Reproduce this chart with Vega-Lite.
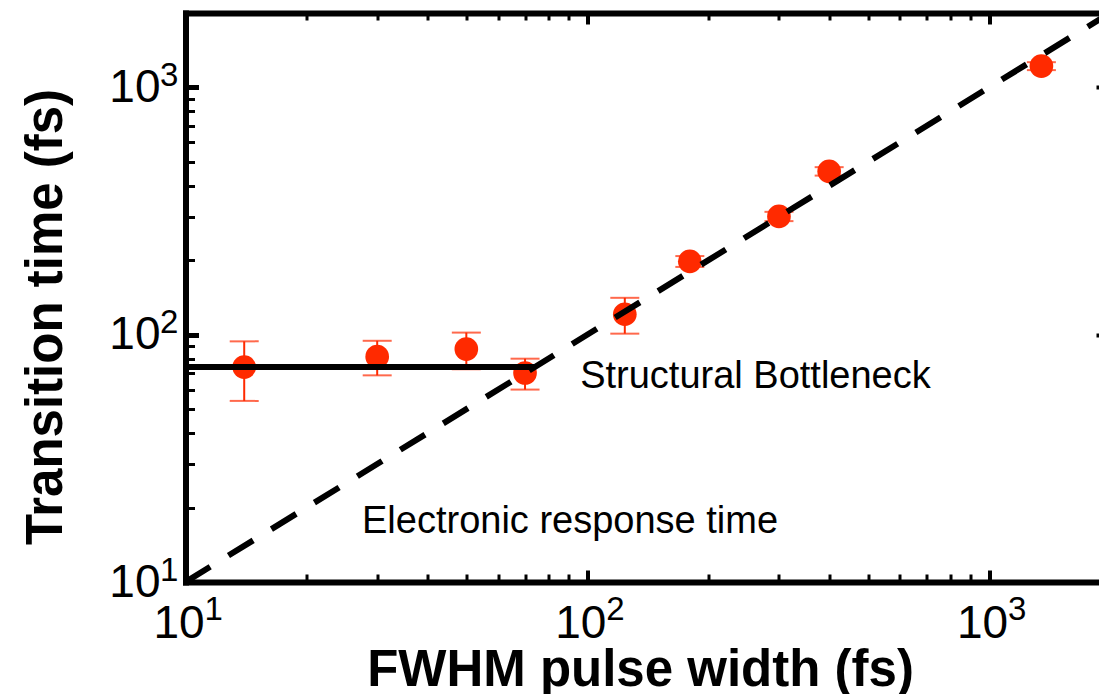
{
  "$schema": "https://vega.github.io/schema/vega-lite/v6.json",
  "width": 913.5,
  "height": 569,
  "autosize": {"type": "none"},
  "padding": {"left": 185.5, "top": 13, "right": 0, "bottom": 112},
  "background": "white",
  "config": {"view": {"stroke": null}, "font": "Liberation Sans"},
  "datasets": {
    "measured": [
      {"fwhm": 14, "t": 74, "lo": 54, "hi": 94},
      {"fwhm": 30, "t": 81.5, "lo": 68.5, "hi": 94.5},
      {"fwhm": 50, "t": 87.5, "lo": 72.5, "hi": 102},
      {"fwhm": 70, "t": 70, "lo": 60, "hi": 80},
      {"fwhm": 124, "t": 121, "lo": 101, "hi": 141},
      {"fwhm": 180, "t": 198, "lo": 188, "hi": 208},
      {"fwhm": 300, "t": 301, "lo": 288, "hi": 314},
      {"fwhm": 400, "t": 458, "lo": 440, "hi": 476},
      {"fwhm": 1350, "t": 1220, "lo": 1175, "hi": 1265}
    ],
    "bottleneck": [
      {"fwhm": 10, "t": 74},
      {"fwhm": 74, "t": 74}
    ],
    "electronic": [
      {"fwhm": 10, "t": 10},
      {"fwhm": 2000, "t": 2000}
    ],
    "notes": [
      {"fwhm": 96, "t": 61, "label": "Structural Bottleneck"},
      {"fwhm": 27.5, "t": 15.8, "label": "Electronic response time"}
    ],
    "decades": [
      {"v": 10, "e": "1"},
      {"v": 100, "e": "2"},
      {"v": 1000, "e": "3"}
    ]
  },
  "layer": [
    {
      "data": {"name": "measured"},
      "mark": {"type": "rule", "color": "#ff2a00", "strokeWidth": 2},
      "encoding": {
        "x": {
          "field": "fwhm", "type": "quantitative",
          "scale": {"type": "log", "domain": [10, 1878], "nice": false},
          "axis": {
            "orient": "bottom",
            "values": [10, 20, 30, 40, 50, 60, 70, 80, 90, 100, 200, 300, 400, 500, 600, 700, 800, 900, 1000],
            "grid": false,
            "domainColor": "black", "domainWidth": 6, "domainCap": "square",
            "tickColor": "black",
            "tickSize": {"condition": {"test": "datum.value === 10 || datum.value === 100 || datum.value === 1000", "value": -12}, "value": -8},
            "tickWidth": {"condition": {"test": "datum.value === 10 || datum.value === 100 || datum.value === 1000", "value": 4}, "value": 3},
            "labelExpr": "datum.value === 10 || datum.value === 100 || datum.value === 1000 ? '10' : ''",
            "labelFont": "Liberation Sans", "labelFontSize": 46, "labelColor": "black",
            "labelBaseline": "alphabetic", "labelAlign": "center",
            "labelPadding": 67, "labelOffset": -7,
            "labelOverlap": false, "labelFlush": false, "labelBound": false,
            "title": "FWHM pulse width (fs)",
            "titleFont": "Liberation Sans", "titleFontWeight": "bold", "titleFontSize": 51, "titleColor": "black",
            "titleX": 454.5, "titleY": 103, "titleBaseline": "alphabetic", "titleAlign": "center"
          }
        },
        "y": {
          "field": "lo", "type": "quantitative",
          "scale": {"type": "log", "domain": [10, 2000], "nice": false},
          "axis": {
            "orient": "left",
            "values": [10, 20, 30, 40, 50, 60, 70, 80, 90, 100, 200, 300, 400, 500, 600, 700, 800, 900, 1000],
            "grid": false,
            "domainColor": "black", "domainWidth": 6, "domainCap": "square",
            "tickColor": "black",
            "tickSize": {"condition": {"test": "datum.value === 10 || datum.value === 100 || datum.value === 1000", "value": -13}, "value": -9},
            "tickWidth": {"condition": {"test": "datum.value === 10 || datum.value === 100 || datum.value === 1000", "value": 5}, "value": 3},
            "labelExpr": "datum.value === 10 || datum.value === 100 || datum.value === 1000 ? '10' : ''",
            "labelFont": "Liberation Sans", "labelFontSize": 46, "labelColor": "black",
            "labelBaseline": "alphabetic", "labelAlign": "right",
            "labelPadding": 38.5, "labelOffset": 14,
            "labelOverlap": false, "labelFlush": false, "labelBound": false,
            "title": "Transition time (fs)",
            "titleFont": "Liberation Sans", "titleFontWeight": "bold", "titleFontSize": 51, "titleColor": "black",
            "titleAngle": -90, "titleX": -124, "titleY": 303.5, "titleBaseline": "alphabetic", "titleAlign": "center"
          }
        },
        "y2": {"field": "hi"}
      }
    },
    {
      "data": {"name": "measured"},
      "mark": {"type": "tick", "orient": "horizontal", "color": "#ff2a00", "size": 29, "thickness": 2},
      "encoding": {
        "x": {
          "field": "fwhm", "type": "quantitative",
          "scale": {"type": "log", "domain": [10, 1878], "nice": false},
          "axis": {
            "orient": "top",
            "values": [10, 20, 30, 40, 50, 60, 70, 80, 90, 100, 200, 300, 400, 500, 600, 700, 800, 900, 1000],
            "grid": false, "labels": false, "title": null,
            "domainColor": "black", "domainWidth": 6, "domainCap": "square",
            "tickColor": "black",
            "tickSize": {"condition": {"test": "datum.value === 10 || datum.value === 100 || datum.value === 1000", "value": -11}, "value": -7},
            "tickWidth": {"condition": {"test": "datum.value === 10 || datum.value === 100 || datum.value === 1000", "value": 4}, "value": 3}
          }
        },
        "y": {
          "field": "hi", "type": "quantitative",
          "scale": {"type": "log", "domain": [10, 2000], "nice": false},
          "axis": {
            "orient": "right",
            "values": [10, 100, 1000],
            "grid": false, "labels": false, "title": null, "domain": false,
            "tickColor": "black", "tickSize": -3, "tickWidth": 4
          }
        }
      }
    },
    {
      "data": {"name": "measured"},
      "mark": {"type": "tick", "orient": "horizontal", "color": "#ff2a00", "size": 29, "thickness": 2},
      "encoding": {
        "x": {"field": "fwhm", "type": "quantitative", "axis": null},
        "y": {"field": "lo", "type": "quantitative", "axis": null}
      }
    },
    {
      "data": {"name": "measured"},
      "mark": {"type": "point", "shape": "circle", "filled": true, "color": "#ff2a00", "size": 560, "opacity": 1, "strokeWidth": 0},
      "encoding": {
        "x": {"field": "fwhm", "type": "quantitative", "axis": null},
        "y": {"field": "t", "type": "quantitative", "axis": null}
      }
    },
    {
      "data": {"name": "bottleneck"},
      "mark": {"type": "line", "color": "black", "strokeWidth": 6},
      "encoding": {
        "x": {"field": "fwhm", "type": "quantitative", "axis": null},
        "y": {"field": "t", "type": "quantitative", "axis": null}
      }
    },
    {
      "data": {"name": "electronic"},
      "mark": {"type": "line", "color": "black", "strokeWidth": 6, "strokeDash": [29, 21.45], "strokeCap": "butt", "clip": true},
      "encoding": {
        "x": {"field": "fwhm", "type": "quantitative", "axis": null},
        "y": {"field": "t", "type": "quantitative", "axis": null}
      }
    },
    {
      "data": {"name": "notes"},
      "mark": {"type": "text", "font": "Liberation Sans", "fontSize": 38, "color": "black", "align": "left", "baseline": "alphabetic"},
      "encoding": {
        "x": {"field": "fwhm", "type": "quantitative", "axis": null},
        "y": {"field": "t", "type": "quantitative", "axis": null},
        "text": {"field": "label"}
      }
    },
    {
      "data": {"name": "decades"},
      "mark": {"type": "text", "font": "Liberation Sans", "fontSize": 33, "color": "black", "align": "left", "baseline": "alphabetic", "dx": -25.5, "dy": -1.3},
      "encoding": {
        "x": {"datum": 10, "type": "quantitative", "axis": null},
        "y": {"field": "v", "type": "quantitative", "axis": null},
        "text": {"field": "e"}
      }
    },
    {
      "data": {"name": "decades"},
      "mark": {"type": "text", "font": "Liberation Sans", "fontSize": 33, "color": "black", "align": "left", "baseline": "alphabetic", "dx": 19, "dy": 37.5},
      "encoding": {
        "x": {"field": "v", "type": "quantitative", "axis": null},
        "y": {"datum": 10, "type": "quantitative", "axis": null},
        "text": {"field": "e"}
      }
    }
  ],
  "resolve": {"axis": {"x": "independent", "y": "independent"}}
}
